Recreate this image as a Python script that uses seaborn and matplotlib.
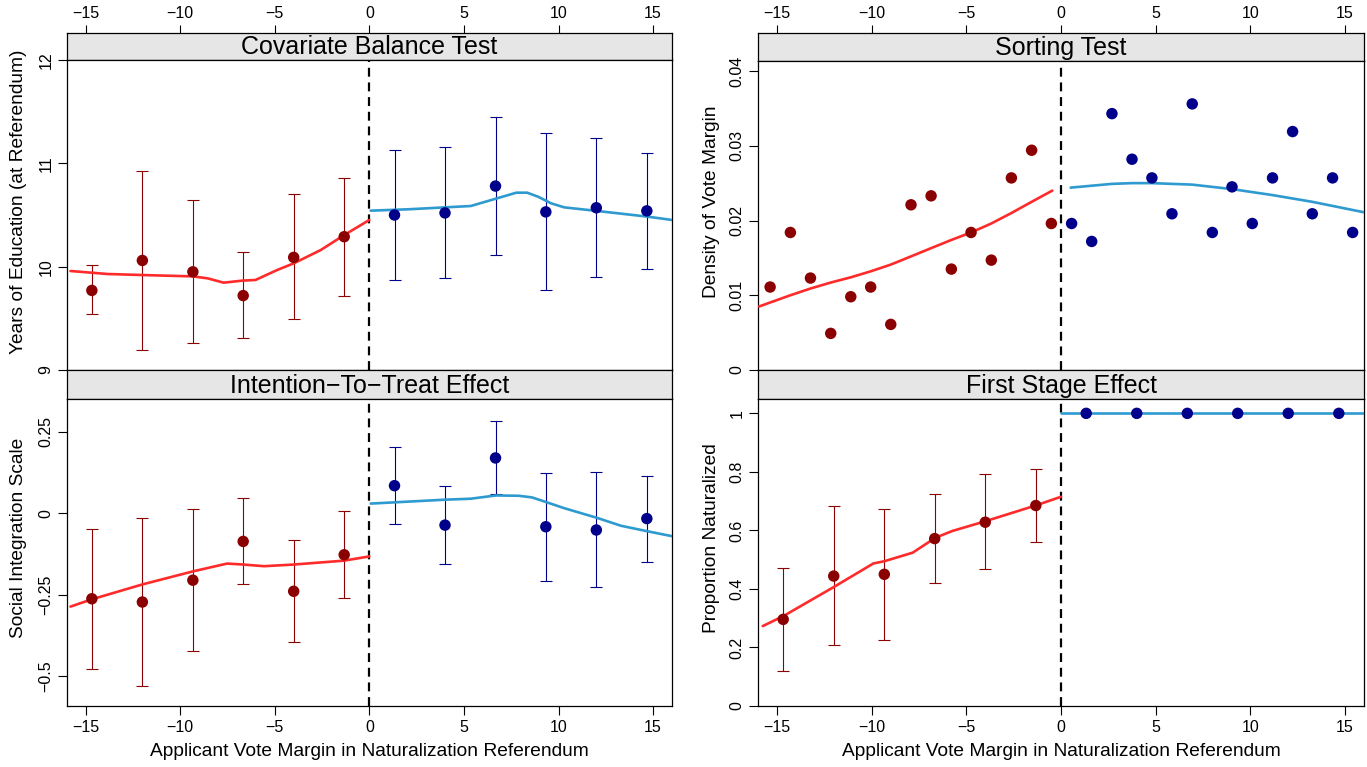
import numpy as np
import pandas as pd
import matplotlib
matplotlib.use("Agg")
import matplotlib.pyplot as plt
import seaborn as sns

# ---------------- data ----------------
xbin_left = [-14.67, -12.0, -9.33, -6.67, -4.0, -1.33]
xbin_right = [1.33, 4.0, 6.67, 9.33, 12.0, 14.67]
xticks = [-15, -10, -5, 0, 5, 10, 15]
xtick_labels = ["\u221215", "\u221210", "\u22125", "0", "5", "10", "15"]

# Covariate Balance Test
cov_left_mean = [9.77, 10.06, 9.95, 9.72, 10.09, 10.29]
cov_left_lo = [9.54, 9.19, 9.26, 9.31, 9.49, 9.72]
cov_left_hi = [10.02, 10.93, 10.65, 10.14, 10.70, 10.86]
cov_right_mean = [10.50, 10.52, 10.78, 10.53, 10.57, 10.54]
cov_right_lo = [9.87, 9.89, 10.11, 9.77, 9.90, 9.98]
cov_right_hi = [11.13, 11.16, 11.45, 11.29, 11.25, 11.10]
cov_fit_left_x = [-15.8, -13.84, -12.0, -9.33, -8.55, -7.70, -6.71, -6.02, -4.87, -4.0, -2.57, -1.33, 0.0]
cov_fit_left_y = [9.958, 9.929, 9.919, 9.906, 9.887, 9.845, 9.865, 9.871, 9.968, 10.032, 10.161, 10.306, 10.452]
cov_fit_right_x = [0.07, 2.02, 4.02, 5.36, 6.69, 7.77, 8.34, 8.92, 9.61, 10.30, 12.05, 14.71, 16.0]
cov_fit_right_y = [10.542, 10.555, 10.574, 10.587, 10.658, 10.716, 10.716, 10.677, 10.613, 10.574, 10.539, 10.484, 10.452]
cov_yticks = [9, 10, 11, 12]
cov_ytick_labels = ["9", "10", "11", "12"]

# Intention-To-Treat Effect
itt_left_mean = [-0.262, -0.272, -0.205, -0.086, -0.239, -0.127]
itt_left_lo = [-0.479, -0.531, -0.422, -0.217, -0.395, -0.259]
itt_left_hi = [-0.047, -0.013, 0.013, 0.048, -0.083, 0.006]
itt_right_mean = [0.085, -0.036, 0.170, -0.041, -0.051, -0.016]
itt_right_lo = [-0.034, -0.154, 0.059, -0.207, -0.227, -0.148]
itt_right_hi = [0.204, 0.083, 0.282, 0.124, 0.126, 0.115]
itt_fit_left_x = [-15.8, -14.69, -12.0, -9.33, -7.52, -6.67, -5.56, -4.0, -1.33, 0.0]
itt_fit_left_y = [-0.286, -0.264, -0.218, -0.178, -0.154, -0.157, -0.162, -0.157, -0.145, -0.132]
itt_fit_right_x = [0.07, 4.0, 5.36, 6.69, 7.9, 8.6, 9.38, 10.3, 12.05, 13.3, 14.71, 16.0]
itt_fit_right_y = [0.030, 0.042, 0.045, 0.055, 0.054, 0.049, 0.034, 0.016, -0.014, -0.038, -0.055, -0.070]
itt_yticks = [-0.5, -0.25, 0, 0.25]
itt_ytick_labels = ["\u22120.5", "\u22120.25", "0", "0.25"]

# Sorting Test
sort_left_x = [-15.36, -14.29, -13.23, -12.16, -11.10, -10.05, -8.99, -7.92, -6.86, -5.79, -4.75, -3.68, -2.62, -1.55, -0.51]
sort_left_y = [0.0111, 0.0184, 0.0123, 0.0049, 0.0098, 0.0111, 0.0061, 0.0221, 0.0233, 0.0135, 0.0184, 0.0147, 0.0257, 0.0294, 0.0196]
sort_right_x = [0.56, 1.62, 2.69, 3.75, 4.80, 5.86, 6.93, 7.99, 9.03, 10.10, 11.17, 12.23, 13.27, 14.34, 15.40]
sort_right_y = [0.0196, 0.0172, 0.0343, 0.0282, 0.0257, 0.0209, 0.0356, 0.0184, 0.0245, 0.0196, 0.0257, 0.0319, 0.0209, 0.0257, 0.0184]
sort_fit_left_x = [-15.94, -14.29, -13.23, -12.16, -11.10, -10.05, -8.99, -7.92, -6.86, -5.79, -4.75, -3.68, -2.62, -1.55, -0.46]
sort_fit_left_y = [0.0085, 0.0100, 0.0109, 0.0117, 0.0124, 0.0132, 0.0141, 0.0152, 0.0163, 0.0174, 0.0184, 0.0196, 0.0210, 0.0225, 0.0240]
sort_fit_right_x = [0.51, 2.69, 3.75, 4.80, 6.93, 9.03, 11.17, 13.27, 16.0]
sort_fit_right_y = [0.0244, 0.0249, 0.0250, 0.0250, 0.0248, 0.0242, 0.0234, 0.0225, 0.0211]
sort_yticks = [0, 0.01, 0.02, 0.03, 0.04]
sort_ytick_labels = ["0", "0.01", "0.02", "0.03", "0.04"]

# First Stage Effect
fs_left_mean = [0.296, 0.444, 0.450, 0.572, 0.628, 0.685]
fs_left_lo = [0.121, 0.207, 0.227, 0.420, 0.467, 0.560]
fs_left_hi = [0.473, 0.682, 0.674, 0.723, 0.792, 0.811]
fs_right_mean = [1.0, 1.0, 1.0, 1.0, 1.0, 1.0]
fs_fit_left_x = [-15.75, -14.64, -11.96, -9.91, -9.31, -7.83, -6.63, -5.74, -3.96, -1.30, 0.0]
fs_fit_left_y = [0.273, 0.308, 0.408, 0.487, 0.495, 0.524, 0.575, 0.598, 0.632, 0.686, 0.715]
fs_fit_right_x = [0.0, 16.0]
fs_fit_right_y = [1.0, 1.0]
fs_yticks = [0, 0.2, 0.4, 0.6, 0.8, 1]
fs_ytick_labels = ["0", "0.2", "0.4", "0.6", "0.8", "1"]

# ---------------- style ----------------
sns.set_style("ticks")
plt.rcParams["font.family"] = ["Liberation Sans", "DejaVu Sans"]
plt.rcParams["text.color"] = "black"
plt.rcParams["axes.labelcolor"] = "black"

PT_RED = "#8B0000"
PT_BLUE = "#00008B"
FIT_RED = "#FF2B2B"
FIT_BLUE = "#2E9AD0"
STRIP = "#E6E6E6"

W, H = 1367, 767
fig = plt.figure(figsize=(W / 100, H / 100), dpi=100)


def box(x0, y0, x1, y1):
    return [x0 / W, 1 - y1 / H, (x1 - x0) / W, (y1 - y0) / H]


COLS = {"L": (66.7, 672.0), "R": (758.0, 1364.0)}


def make_strip(col, y0, y1, title, top_ticks):
    x0, x1 = COLS[col]
    s = fig.add_axes(box(x0, y0, x1, y1))
    s.set_facecolor(STRIP)
    s.set_xlim(-16, 16)
    s.set_ylim(0, 1)
    s.set_yticks([])
    for sp in s.spines.values():
        sp.set_color("black")
        sp.set_linewidth(0.9)
    if top_ticks:
        s.xaxis.tick_top()
        s.set_xticks(xticks)
        s.set_xticklabels(xtick_labels)
        s.tick_params(axis="x", length=5.5, width=0.8, pad=3, labelsize=11.5, colors="black")
    else:
        s.set_xticks([])
    s.text(0.5, 0.47, title, transform=s.transAxes, ha="center", va="center", fontsize=18, color="black")
    return s


def make_panel(col, y0, y1, ylim, yticks, ylabels, bottom_ticks):
    x0, x1 = COLS[col]
    ax = fig.add_axes(box(x0, y0, x1, y1))
    ax.set_xlim(-16, 16)
    ax.set_ylim(*ylim)
    for sp in ax.spines.values():
        sp.set_color("black")
        sp.set_linewidth(0.9)
    if bottom_ticks:
        ax.set_xticks(xticks)
        ax.set_xticklabels(xtick_labels)
        ax.tick_params(axis="x", length=6.5, width=0.8, pad=3.5, labelsize=11.5, colors="black")
    else:
        ax.set_xticks([])
    ax.set_yticks(yticks)
    ax.set_yticklabels(ylabels)
    ax.tick_params(axis="y", length=6.5, width=0.8, pad=3, labelsize=11.5, labelrotation=90, colors="black")
    for lab in ax.get_yticklabels():
        lab.set_va("center")
    ax.set_xlabel("")
    ax.set_ylabel("")
    ax.axvline(0, color="black", lw=1.6, ls=(0, (4, 2.6)), zorder=1)
    return ax


def draw_bins(ax, xs, mean, lo, hi, pcolor, bars=True):
    if bars:
        m = np.array(mean)
        ax.errorbar(xs, m, yerr=[m - np.array(lo), np.array(hi) - m], fmt="none",
                    ecolor=pcolor, elinewidth=0.8, capsize=4.5, capthick=0.8, zorder=2)
    sns.scatterplot(x=xs, y=mean, ax=ax, color=pcolor, s=68, edgecolor="none", zorder=4, legend=False)


def draw_fit(ax, xs, ys, color):
    sns.lineplot(x=xs, y=ys, ax=ax, color=color, lw=1.9, sort=False, estimator=None, zorder=3)


# ---------------- Covariate Balance Test ----------------
make_strip("L", 33.3, 60, "Covariate Balance Test", True)
ax1 = make_panel("L", 60, 370, (9, 12), cov_yticks, cov_ytick_labels, False)
draw_fit(ax1, cov_fit_left_x, cov_fit_left_y, FIT_RED)
draw_fit(ax1, cov_fit_right_x, cov_fit_right_y, FIT_BLUE)
draw_bins(ax1, xbin_left, cov_left_mean, cov_left_lo, cov_left_hi, PT_RED)
draw_bins(ax1, xbin_right, cov_right_mean, cov_right_lo, cov_right_hi, PT_BLUE)

# ---------------- Intention-To-Treat ----------------
make_strip("L", 370, 399.3, "Intention\u2212To\u2212Treat Effect", False)
ax2 = make_panel("L", 399.3, 706.0, (-0.591, 0.350), itt_yticks, itt_ytick_labels, True)
draw_fit(ax2, itt_fit_left_x, itt_fit_left_y, FIT_RED)
draw_fit(ax2, itt_fit_right_x, itt_fit_right_y, FIT_BLUE)
draw_bins(ax2, xbin_left, itt_left_mean, itt_left_lo, itt_left_hi, PT_RED)
draw_bins(ax2, xbin_right, itt_right_mean, itt_right_lo, itt_right_hi, PT_BLUE)

# ---------------- Sorting Test ----------------
make_strip("R", 33.3, 61, "Sorting Test", True)
ax3 = make_panel("R", 61, 370, (0, 0.04134), sort_yticks, sort_ytick_labels, False)
draw_fit(ax3, sort_fit_left_x, sort_fit_left_y, FIT_RED)
draw_fit(ax3, sort_fit_right_x, sort_fit_right_y, FIT_BLUE)
sns.scatterplot(x=sort_left_x, y=sort_left_y, ax=ax3, color=PT_RED, s=68, edgecolor="none", zorder=4, legend=False)
sns.scatterplot(x=sort_right_x, y=sort_right_y, ax=ax3, color=PT_BLUE, s=68, edgecolor="none", zorder=4, legend=False)

# ---------------- First Stage Effect ----------------
make_strip("R", 370, 399.3, "First Stage Effect", False)
ax4 = make_panel("R", 399.3, 706.0, (0, 1.048), fs_yticks, fs_ytick_labels, True)
draw_fit(ax4, fs_fit_left_x, fs_fit_left_y, FIT_RED)
draw_fit(ax4, fs_fit_right_x, fs_fit_right_y, FIT_BLUE)
draw_bins(ax4, xbin_left, fs_left_mean, fs_left_lo, fs_left_hi, PT_RED)
draw_bins(ax4, xbin_right, fs_right_mean, fs_right_mean, fs_right_mean, PT_BLUE, bars=False)

for a in (ax1, ax2, ax3, ax4):
    a.set_xlabel("")
    a.set_ylabel("")

# ---------------- axis titles ----------------
LBL = 13.8
fig.text(19 / W, 1 - 201.7 / H, "Years of Education (at Referendum)", rotation=90, ha="center", va="center", fontsize=LBL)
fig.text(19 / W, 1 - 538.3 / H, "Social Integration Scale", rotation=90, ha="center", va="center", fontsize=LBL)
fig.text(711 / W, 1 - 201.7 / H, "Density of Vote Margin", rotation=90, ha="center", va="center", fontsize=LBL)
fig.text(711 / W, 1 - 538.3 / H, "Proportion Naturalized", rotation=90, ha="center", va="center", fontsize=LBL)
fig.text(369.3 / W, 1 - 751 / H, "Applicant Vote Margin in Naturalization Referendum", ha="center", va="center", fontsize=LBL)
fig.text(1061 / W, 1 - 751 / H, "Applicant Vote Margin in Naturalization Referendum", ha="center", va="center", fontsize=LBL)

fig.savefig("out.png", dpi=100)
